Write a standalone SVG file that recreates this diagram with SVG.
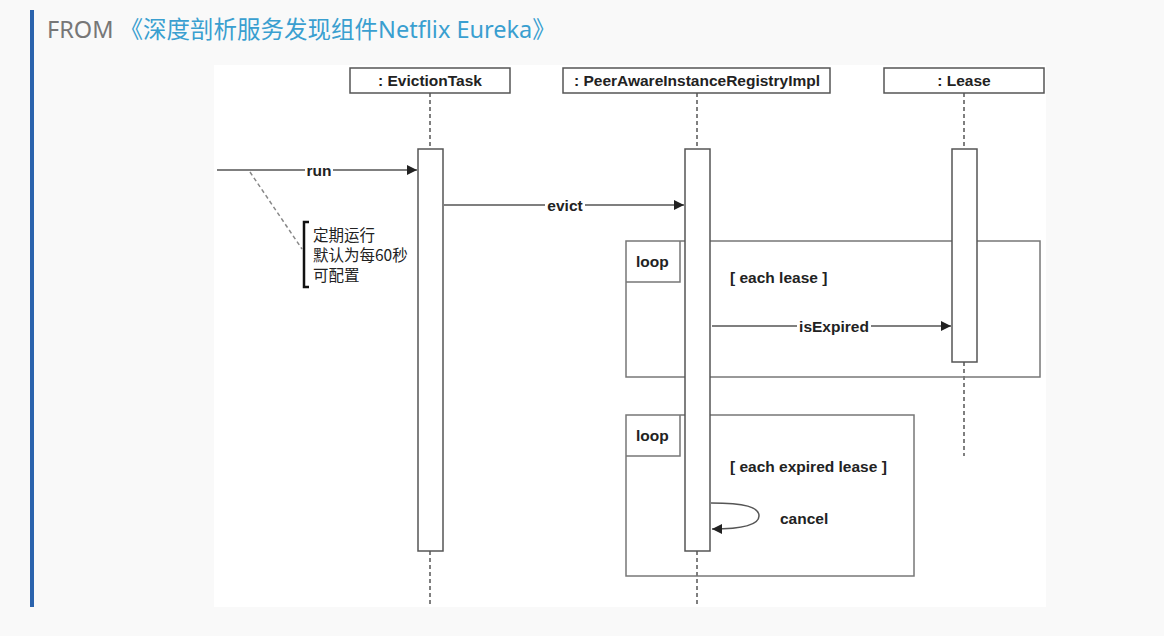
<svg xmlns="http://www.w3.org/2000/svg" width="1164" height="636" viewBox="0 0 1164 636">
<defs>
<style>
.hdr{font-family:"Noto Sans","Noto Sans CJK SC",sans-serif;font-size:23.5px}
.lbl{font-family:"Liberation Sans",Arial,sans-serif;font-size:15.5px;font-weight:bold;fill:#222}
.cjk{font-family:"Noto Sans CJK SC",sans-serif;font-size:15.5px;fill:#222}
.box{fill:#fff;stroke:#555;stroke-width:1.5}
.act{fill:#fff;stroke:#555;stroke-width:1.5}
.life{stroke:#555;stroke-width:1.5;stroke-dasharray:4,3;fill:none}
.msg{stroke:#555;stroke-width:1.5;fill:none}
.frame{fill:none;stroke:#777;stroke-width:1.5}
</style>
<marker id="ah" viewBox="0 0 10 10" refX="10" refY="5" markerWidth="10" markerHeight="10" markerUnits="userSpaceOnUse" orient="auto">
<path d="M0,0 L10,5 L0,10 z" fill="#222"/>
</marker>
</defs>
<rect width="1164" height="636" fill="#f9f9f9"/>
<rect x="30" y="10" width="4" height="597" fill="#2b63ad"/>
<text class="hdr" x="47" y="38" fill="#777">FROM <tspan fill="#3a9fd0">《深度剖析服务发现组件Netflix Eureka》</tspan></text>
<rect x="214" y="65" width="832" height="542" fill="#fff"/>

<g id="connectors">
<line class="life" x1="430" y1="93" x2="430" y2="149"/>
<line class="life" x1="430" y1="551" x2="430" y2="605"/>
<line class="life" x1="697" y1="93" x2="697" y2="149"/>
<line class="life" x1="697" y1="551" x2="697" y2="605"/>
<line class="life" x1="964" y1="93" x2="964" y2="149"/>
<line class="life" x1="964" y1="362" x2="964" y2="456"/>
</g>

<g id="loop1">
<rect class="frame" x="626" y="241" width="414" height="136"/>
<path class="frame" d="M626,282 H680 V241"/>
<text class="lbl" x="636" y="267">loop</text>
<text class="lbl" x="730" y="283">[ each lease ]</text>
</g>
<g id="loop2">
<rect class="frame" x="626" y="415" width="288" height="161"/>
<path class="frame" d="M626,456 H680 V415"/>
<text class="lbl" x="636" y="441">loop</text>
<text class="lbl" x="730" y="472">[ each expired lease ]</text>
</g>

<g id="EvictionTask">
<rect class="box" x="350" y="68" width="160" height="25"/>
<text class="lbl" x="430" y="86" text-anchor="middle">: EvictionTask</text>
<rect class="act" x="418" y="149" width="25" height="402"/>
</g>
<g id="PeerAwareInstanceRegistryImpl">
<rect class="box" x="563" y="68" width="267" height="25"/>
<text class="lbl" x="697" y="86" text-anchor="middle">: PeerAwareInstanceRegistryImpl</text>
<rect class="act" x="685" y="149" width="25" height="402"/>
</g>
<g id="Lease">
<rect class="box" x="884" y="68" width="160" height="25"/>
<text class="lbl" x="964" y="86" text-anchor="middle">: Lease</text>
<rect class="act" x="952" y="149" width="25" height="213"/>
</g>

<g id="messages">
<line class="msg" x1="217" y1="170" x2="417" y2="170" marker-end="url(#ah)"/>
<rect x="305" y="162" width="28" height="16" fill="#fff"/>
<text class="lbl" x="319" y="175.5" text-anchor="middle">run</text>
<line class="msg" x1="444" y1="205" x2="684" y2="205" marker-end="url(#ah)"/>
<rect x="545" y="197" width="40" height="16" fill="#fff"/>
<text class="lbl" x="565" y="210.5" text-anchor="middle">evict</text>
<line class="msg" x1="712" y1="326" x2="951" y2="326" marker-end="url(#ah)"/>
<rect x="797" y="318" width="74" height="16" fill="#fff"/>
<text class="lbl" x="834" y="331.5" text-anchor="middle">isExpired</text>
<path class="msg" d="M711,503 C745,503 759,507 759,516 C759,526 740,529 712,529" marker-end="url(#ah)"/>
<text class="lbl" x="780" y="524">cancel</text>
</g>

<g id="note">
<line x1="250" y1="172" x2="302" y2="249" stroke="#888" stroke-width="1.5" stroke-dasharray="4,3"/>
<path d="M309,222 H304 V287 H309" fill="none" stroke="#111" stroke-width="2.5"/>
<text class="cjk" x="313" y="241"><tspan x="313" y="241">定期运行</tspan><tspan x="313" y="261">默认为每60秒</tspan><tspan x="313" y="281">可配置</tspan></text>
</g>
</svg>
